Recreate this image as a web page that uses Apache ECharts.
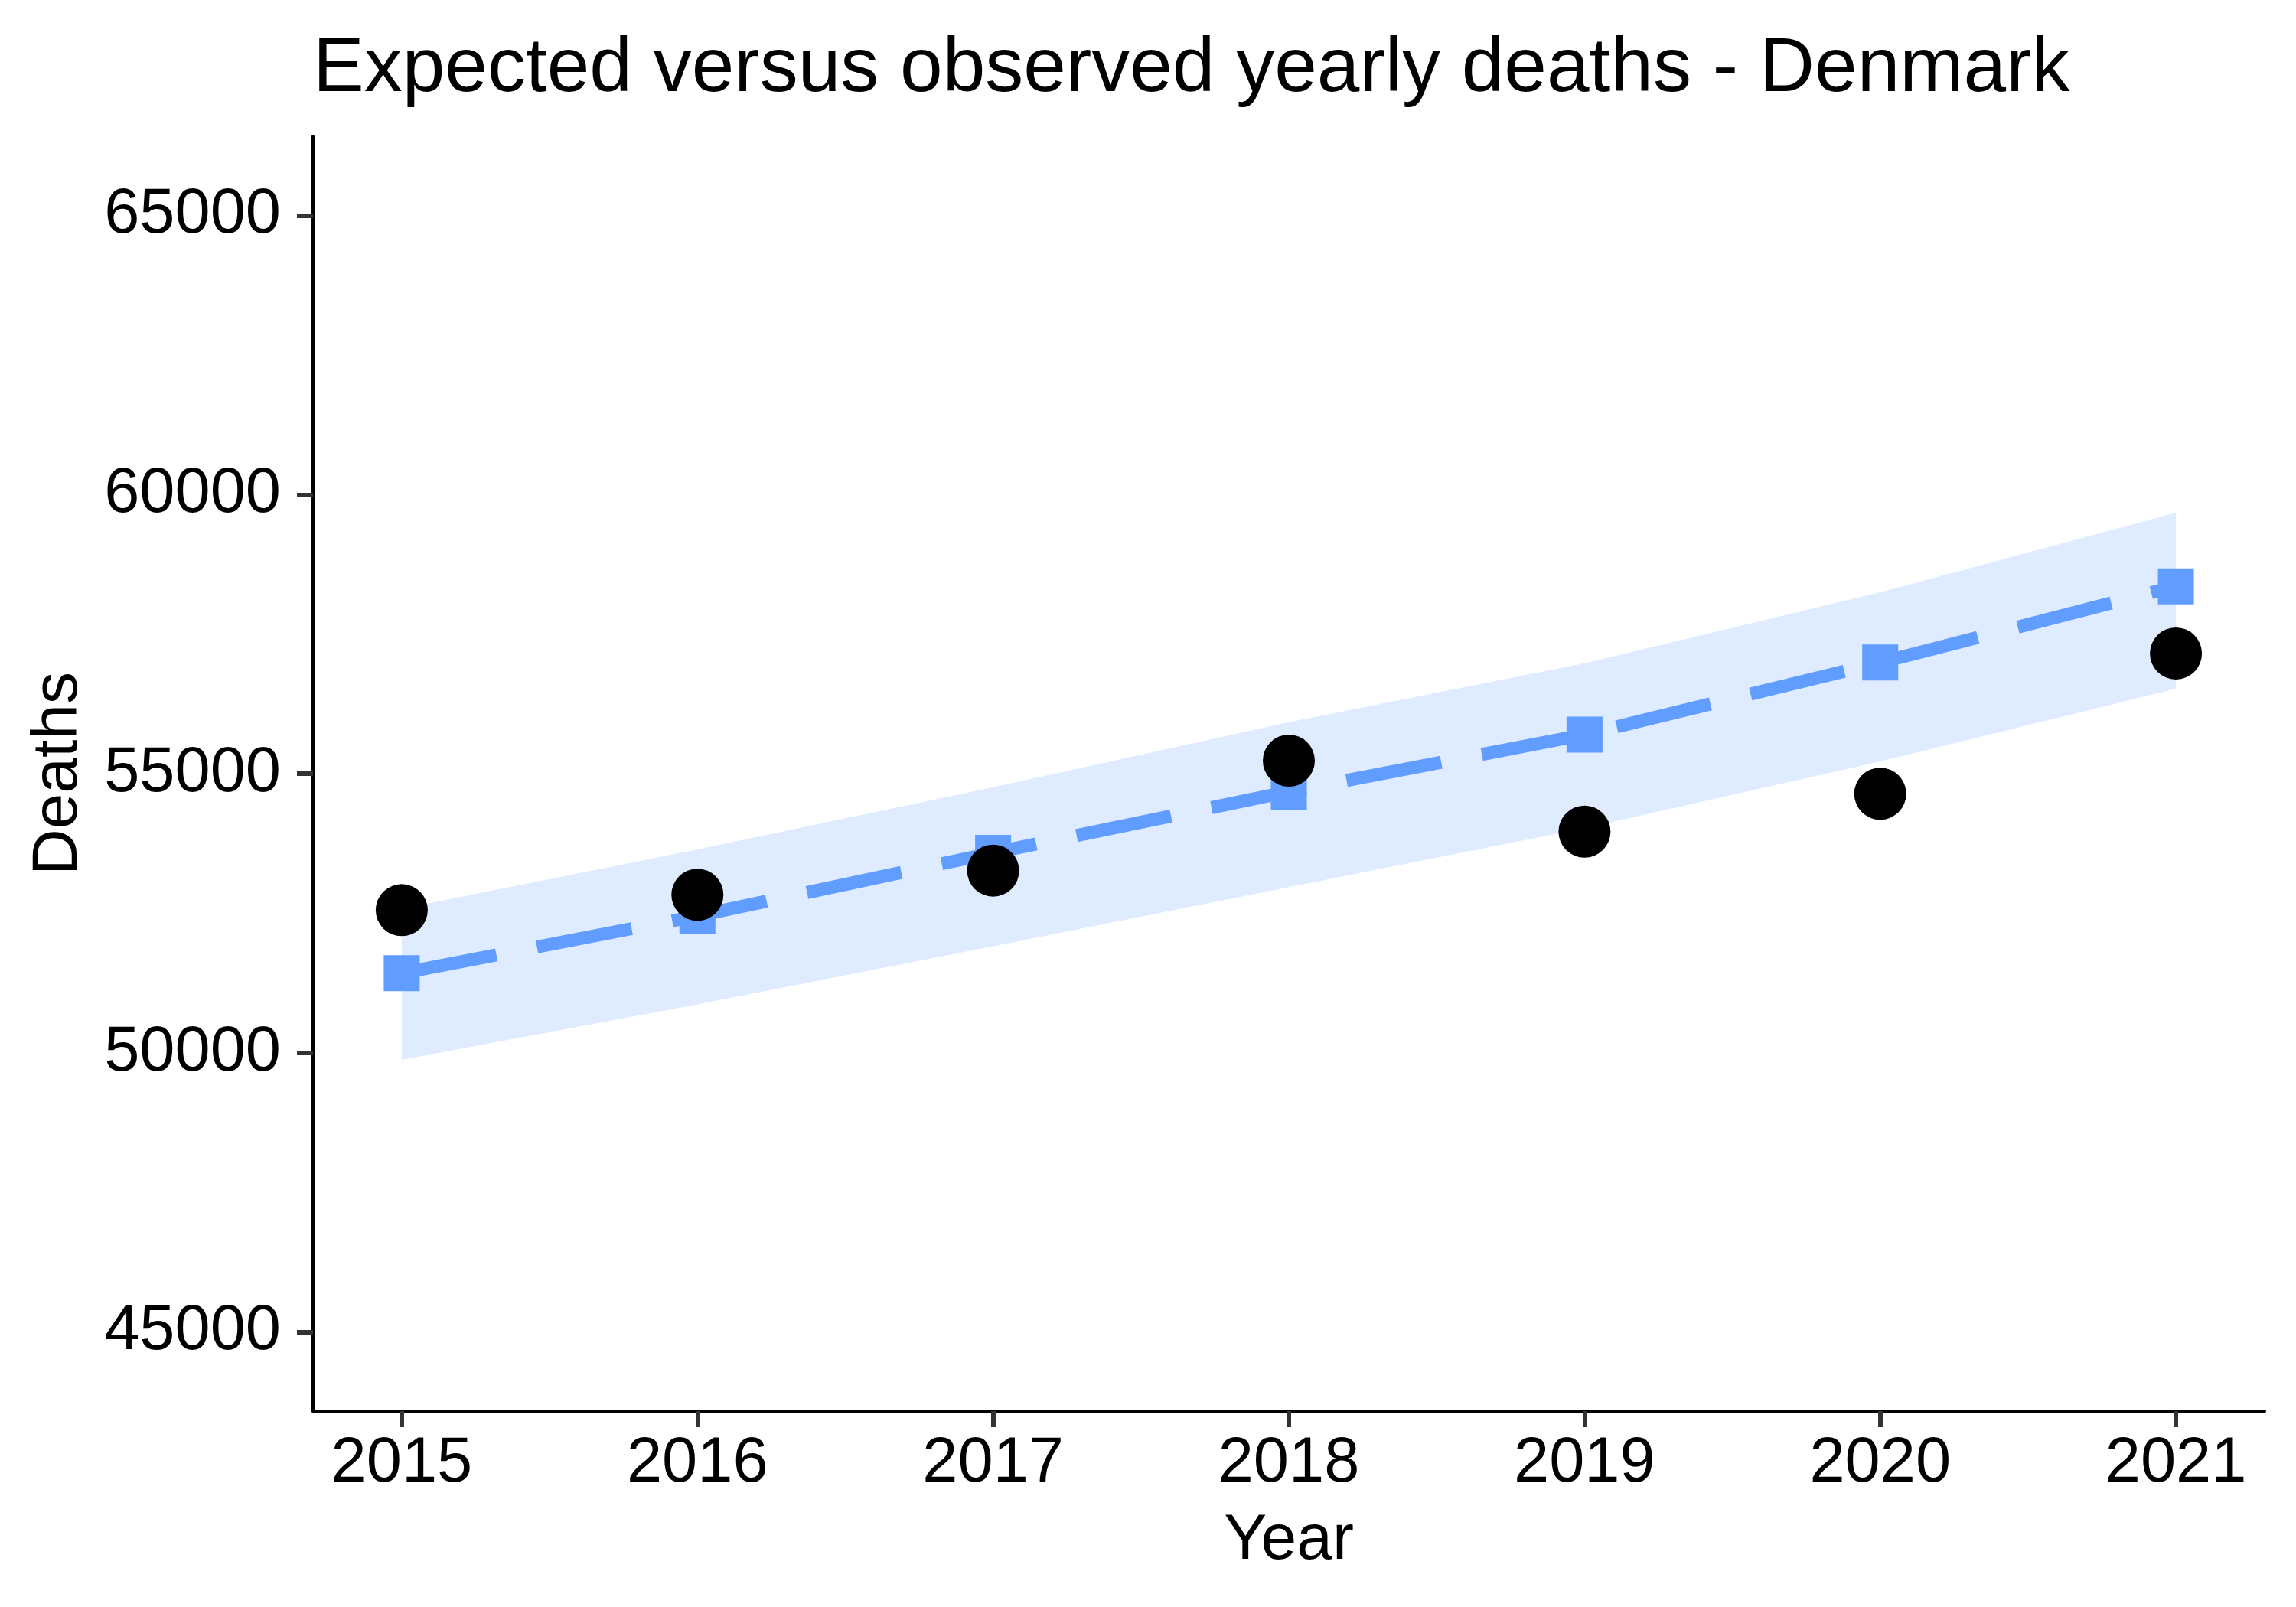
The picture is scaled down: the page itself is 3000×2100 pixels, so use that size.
<!DOCTYPE html>
<html>
<head>
<meta charset="utf-8">
<script src="https://cdn.jsdelivr.net/npm/echarts@6/dist/echarts.min.js"></script>
<style>
html,body{margin:0;padding:0;background:#fff;}
#chart{width:3000px;height:2100px;}
</style>
</head>
<body>
<div id="chart"></div>
<script>
// ---- data ----
const years = [2015, 2016, 2017, 2018, 2019, 2020, 2021];
const observed = [52555, 52830, 53263, 55233, 53962, 54640, 57153];
const expected = [51425, 52452, 53581, 54678, 55699, 56991, 58355];
const bandLower = [49872, 50866, 51908, 52968, 54022, 55219, 56522];
const bandUpper = [52580, 53642, 54757, 55923, 56979, 58250, 59676];
const yTicks = [45000, 50000, 55000, 60000, 65000];
const titleText = 'Expected versus observed yearly deaths - Denmark';

const FONT = '"Liberation Sans", Arial, Helvetica, sans-serif';
const blue = '#619CFF';

const chart = echarts.init(document.getElementById('chart'), null, {renderer: 'canvas'});

const pairs = (arr) => years.map((y, i) => [y, arr[i]]);

const option = {
  backgroundColor: '#ffffff',
  animation: false,
  title: {
    text: titleText,
    left: 404,
    top: 36,
    textStyle: {fontFamily: FONT, fontSize: 100, fontWeight: 'normal', color: '#000'}
  },
  grid: {left: 409, right: 41, top: 178, bottom: 256, containLabel: false, outerBoundsMode: 'none'},
  xAxis: {
    type: 'value',
    min: 2014.7,
    max: 2021.3,
    name: 'Year',
    nameLocation: 'middle',
    nameGap: 128,
    nameTextStyle: {fontFamily: FONT, fontSize: 84, color: '#000'},
    axisLine: {show: true, onZero: false, lineStyle: {color: '#000', width: 4}},
    axisTick: {show: true, length: 21, customValues: years, lineStyle: {color: '#333', width: 6}},
    axisLabel: {customValues: years, margin: 28, fontFamily: FONT, fontSize: 83, color: '#000', formatter: (v) => String(Math.round(v))},
    splitLine: {show: false}
  },
  yAxis: {
    type: 'value',
    min: 43580,
    max: 66420,
    name: 'Deaths',
    nameLocation: 'middle',
    nameGap: 290,
    nameTextStyle: {fontFamily: FONT, fontSize: 84, color: '#000'},
    axisLine: {show: true, onZero: false, lineStyle: {color: '#000', width: 4}},
    axisTick: {show: true, length: 21, customValues: yTicks, lineStyle: {color: '#333', width: 6}},
    axisLabel: {customValues: yTicks, margin: 42, fontFamily: FONT, fontSize: 83, color: '#000', formatter: (v) => String(Math.round(v))},
    splitLine: {show: false}
  },
  series: [
    {
      type: 'custom',
      name: 'band',
      z: 1,
      silent: true,
      data: [[years[0], bandLower[0]]],
      encode: {x: 0, y: 1},
      renderItem: function (params, api) {
        if (params.dataIndex !== 0) return null;
        const pts = [];
        for (let i = 0; i < years.length; i++) pts.push(api.coord([years[i], bandUpper[i]]));
        for (let i = years.length - 1; i >= 0; i--) pts.push(api.coord([years[i], bandLower[i]]));
        return {
          type: 'polygon',
          shape: {points: pts},
          style: {fill: 'rgba(97,156,255,0.2)', stroke: null}
        };
      }
    },
    {
      type: 'line',
      name: 'Expected',
      z: 3,
      data: pairs(expected),
      symbol: 'rect',
      symbolSize: 47,
      itemStyle: {color: blue},
      lineStyle: {color: blue, width: 17, type: [126, 54], cap: 'butt', join: 'miter'}
    },
    {
      type: 'scatter',
      name: 'Observed',
      z: 4,
      data: pairs(observed),
      symbol: 'circle',
      symbolSize: 68,
      itemStyle: {color: '#000', opacity: 1}
    }
  ]
};
chart.setOption(option);
</script>
</body>
</html>
